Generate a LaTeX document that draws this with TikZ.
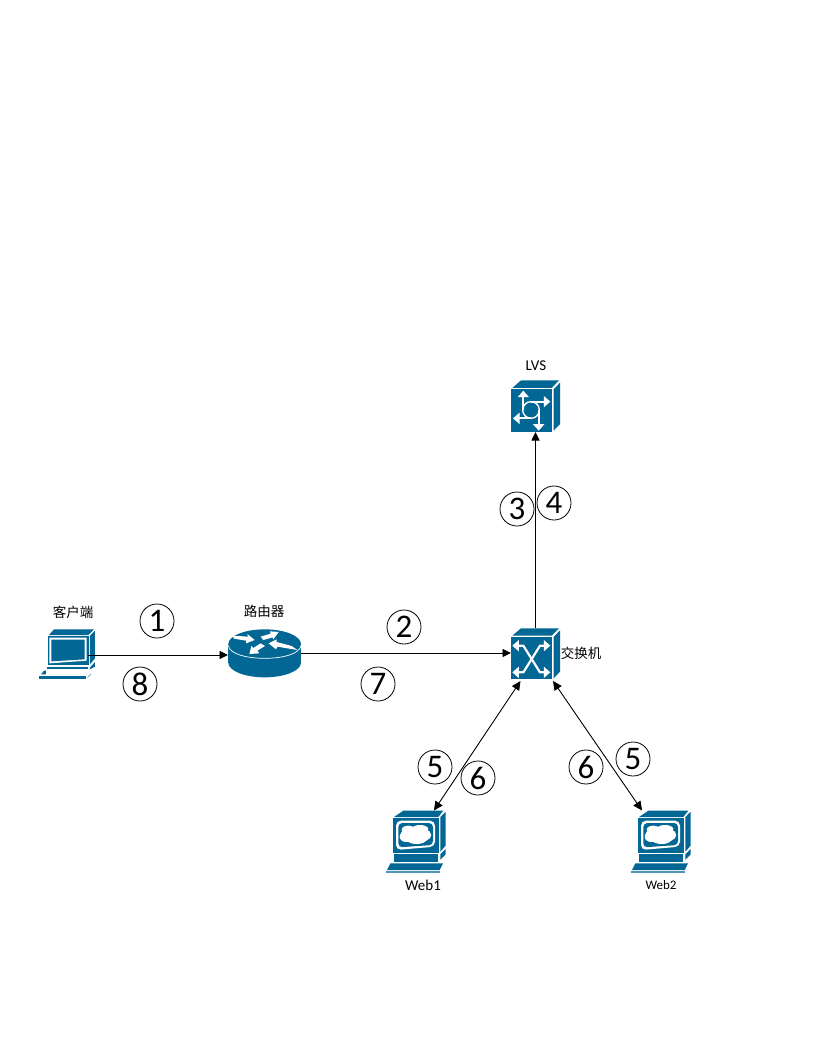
\documentclass[tikz,border=0pt]{standalone}
\usepackage{fontspec}
\setmainfont{Carlito}
\newfontfamily\cjk{Noto Sans CJK SC}
\usetikzlibrary{arrows.meta}
\definecolor{ciscoblue}{HTML}{036796}
\tikzset{
  anchorbox/.style={inner sep=0pt,outer sep=0pt,minimum width=#1},
  lbl/.style={inner sep=0pt,text=black,font=\fontsize{15}{17}\selectfont},
  cjklbl/.style={inner sep=0pt,text=black,font=\cjk\fontsize{13.5}{15}\selectfont},
  numcirc/.style={circle,draw=black,line width=0.8pt,minimum size=34pt,inner sep=0pt,font=\fontsize{33}{35}\selectfont},
  link/.style={draw=black,line width=0.9pt},
  onetip/.style={link,-{Triangle[length=8.5pt,width=8pt]}},
  twotip/.style={link,{Triangle[length=9pt,width=8.5pt]}-{Triangle[length=9pt,width=8.5pt]}},
  wline/.style={draw=white,line width=2.2pt},
  warrow/.style={wline,-{Triangle[length=6.5pt,width=11pt]}},
  wtwo/.style={wline,{Triangle[length=6.5pt,width=11pt]}-{Triangle[length=6.5pt,width=11pt]}},
}
% server monitor with a cloud on its screen; local units are 1/3 px
\newcommand{\webicon}[2]{%
\begin{scope}[shift={(#1,#2)},x=0.3333pt,y=-0.3333pt]
  \fill[ciscoblue] (57,66) -- (85,47) -- (205,47) -- (190,66) -- cycle;
  \fill[ciscoblue] (55,70) rectangle (192,175);
  \fill[ciscoblue] (196,66) -- (212,50) -- (212,152) -- (196,170) -- cycle;
  \fill[white,rounded corners=5pt] (63,77) -- (180,77) -- (180,155) -- (63,165) -- cycle;
  \fill[ciscoblue,rounded corners=4pt] (70,84) -- (174,84) -- (174,150) -- (70,157) -- cycle;
  \fill[white] (122,120) ellipse (46 and 24) (100,104) ellipse (20 and 12) (135,102) ellipse (25 and 12)
    (152,120) ellipse (17 and 15) (93,125) ellipse (19 and 16) (125,135) ellipse (28 and 12);
  \fill[ciscoblue] (58,178) rectangle (190,200);
  \fill[ciscoblue] (196,178) -- (212,162) -- (212,178) -- (196,194) -- cycle;
  \fill[ciscoblue] (46,205) -- (204,205) -- (194,225) -- (36,225) -- cycle;
  \fill[ciscoblue!70] (32,229) rectangle (194,233);
\end{scope}}
\begin{document}
\begin{tikzpicture}[x=1pt,y=-1pt]
\useasboundingbox (0,0) rectangle (816,1056);
\fill[white] (0,0) rectangle (816,1056);

% client
\begin{scope}[shift={(30,620)},x=0.3333pt,y=-0.3333pt]
  \fill[ciscoblue] (57,45) -- (72,28) -- (192,28) -- (175,45) -- cycle;
  \fill[ciscoblue] (53,48) rectangle (176,136);
  \fill[ciscoblue] (180,47) -- (195,32) -- (195,115) -- (180,133) -- cycle;
  \fill[white] (58,53) -- (170,53) -- (170,122) -- (58,130) -- cycle;
  \fill[ciscoblue] (64,59) -- (164,59) -- (164,118) -- (64,124) -- cycle;
  \fill[ciscoblue] (52,141) rectangle (175,147);
  \fill[ciscoblue] (179,144) -- (195,126) -- (195,140) -- (179,148) -- cycle;
  \fill[ciscoblue] (33,163) -- (42,152) -- (48,152) -- (48,163) -- cycle;
  \fill[ciscoblue] (28,168) rectangle (168,177);
  \fill[ciscoblue!60] (172,171) -- (183,161) -- (183,164) -- (172,174) -- cycle;
\end{scope}

% router
\begin{scope}[shift={(220,620)},x=0.3333pt,y=-0.3333pt]
  \fill[ciscoblue] (134,72) ellipse (109 and 44);
  \fill[ciscoblue] (134,128) ellipse (109 and 44);
  \fill[ciscoblue] (25,72) rectangle (243,128);
  \draw[white,line width=0.7pt] (25,76) .. controls (30,128) and (238,128) .. (243,76);
  \fill[white] (38,47) -- (84,50) -- (82,42) -- (104,60) -- (78,70) -- (78,62) -- (42,56) -- cycle;
  \fill[white] (176,36) -- (150,34) -- (152,41) -- (122,50) -- (130,60) -- (158,52) -- (160,58) -- cycle;
  \fill[white] (146,70) -- (170,58) -- (170,66) -- (215,78) -- (232,90) -- (172,80) -- (168,88) -- cycle;
  \fill[white] (88,102) -- (118,100) -- (112,92) -- (135,78) -- (122,70) -- (100,84) -- (94,78) -- cycle;
\end{scope}

% lvs
\begin{scope}[shift={(495,350)},x=0.3333pt,y=-0.3333pt]
  \fill[ciscoblue] (52,114) -- (78,91) -- (192,91) -- (170,114) -- cycle;
  \fill[ciscoblue] (48,118) rectangle (172,245);
  \fill[ciscoblue] (176,118) -- (195,98) -- (195,222) -- (176,242) -- cycle;
  \draw[white,line width=1.4pt] (108,180) circle (25);
  \draw[warrow] (85,180) -- (85,122);
  \draw[warrow] (108,155) -- (166,155);
  \draw[warrow] (108,205) -- (54,205);
  \draw[warrow] (131,180) -- (131,242);
\end{scope}

% switch
\begin{scope}[shift={(495,615)},x=0.3333pt,y=-0.3333pt]
  \fill[ciscoblue] (52,62) -- (78,40) -- (192,40) -- (170,62) -- cycle;
  \fill[ciscoblue] (48,66) rectangle (172,193);
  \fill[ciscoblue] (176,66) -- (195,46) -- (195,170) -- (176,190) -- cycle;
  \draw[wtwo,line join=round] (52,92) -- (85,92) -- (135,172) -- (166,172);
  \draw[wtwo,line join=round] (52,172) -- (85,172) -- (135,92) -- (166,92);
\end{scope}

% servers
\webicon{375}{795}
\webicon{620}{795}

% anchor boxes of the devices
\node[anchorbox=40pt,minimum height=40pt] (client) at (68,655) {};
\node[anchorbox=73pt,minimum height=48pt] (router) at (264.5,653) {};
\node[anchorbox=49pt,minimum height=52pt] (lvs) at (535.5,406) {};
\node[anchorbox=49pt,minimum height=51pt] (switch) at (535.5,653.5) {};
\coordinate (swl) at (520.5,681);
\coordinate (swr) at (553,681);
\coordinate (webl) at (434,810.5);
\coordinate (webr) at (642,810.5);

% connectors
\draw[onetip] (client.east) -- (client.east -| router.west);
\draw[onetip] (router.east) -- (router.east -| switch.west);
\draw[onetip] (switch.north) -- (lvs.south);
\draw[twotip] (swl) -- (webl);
\draw[twotip] (swr) -- (webr);

% labels
\node[cjklbl] (lclient) at (73,612) {客户端};
\node[cjklbl] (lrouter) at (264,611) {路由器};
\node[lbl] (llvs) at (536,366) {LVS};
\node[cjklbl] (lswitch) at (581,653) {交换机};
\node[lbl] (lweb1) at (423,885) {Web1};
\node[lbl,font=\fontsize{13}{15}\selectfont] (lweb2) at (661,885) {Web2};

% numbers
\node[numcirc] (n1) at (157,621) {1};
\node[numcirc] (n8) at (140,684) {8};
\node[numcirc] (n2) at (404,627) {2};
\node[numcirc] (n7) at (378,684) {7};
\node[numcirc] (n3) at (517,509) {3};
\node[numcirc] (n4) at (554,503) {4};
\node[numcirc] (n5a) at (435,767) {5};
\node[numcirc] (n6a) at (478,778) {6};
\node[numcirc] (n6b) at (586,767) {6};
\node[numcirc] (n5b) at (633,759) {5};
\end{tikzpicture}
\end{document}
